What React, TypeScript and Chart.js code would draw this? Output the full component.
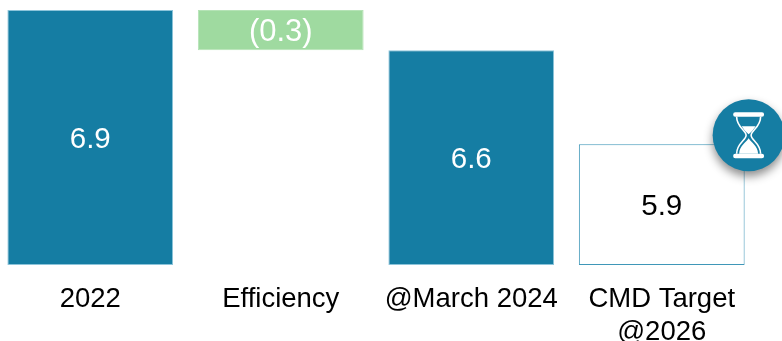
import React, { useEffect, useRef } from "react";
import { Chart, registerables, Plugin } from "chart.js";

Chart.register(...registerables);

const categories: (string | string[])[] = ["2022", "Efficiency", "@March 2024", ["CMD Target", "@2026"]];
const barRanges: [number, number][] = [[5, 6.9], [6.6, 6.9], [5, 6.6], [5, 5.9]];
const valueLabels = ["6.9", "(0.3)", "6.6", "5.9"];
const labelColors = ["#ffffff", "#ffffff", "#ffffff", "#000000"];
const labelSizes = [29.5, 31, 29.5, 29.5];
const fillColors = ["#157da3", "#9fdaa0", "#157da3", "#ffffff"];
const edgeColors = ["#8cc4da", "#b5e3b6", "#8cc4da", "#3f97b8"];

const AXIS_MIN = 5;
const AXIS_MAX = 6.9;
const FONT = "'Liberation Sans', Arial, sans-serif";

// Writes each bar's value in the middle of its bar.
const valueLabelPlugin: Plugin<"bar"> = {
  id: "valueLabels",
  afterDatasetsDraw(chart) {
    const { ctx } = chart;
    ctx.save();
    ctx.textAlign = "center";
    ctx.textBaseline = "middle";
    chart.getDatasetMeta(0).data.forEach((bar, i) => {
      const { x, y, base } = bar.getProps(["x", "y", "base"], true) as any;
      ctx.font = `${labelSizes[i]}px ${FONT}`;
      ctx.fillStyle = labelColors[i];
      ctx.fillText(valueLabels[i], x, (y + base) / 2 + 2);
    });
    ctx.restore();
  },
};

// Round hourglass badge pinned to the top-right corner of the target bar.
const badgePlugin: Plugin<"bar"> = {
  id: "hourglassBadge",
  afterDatasetsDraw(chart) {
    const { ctx } = chart;
    const target = chart.getDatasetMeta(0).data[3].getProps(["x", "y", "width"], true) as any;
    const cx = target.x + target.width / 2 + 4;
    const cy = target.y - 9;

    ctx.save();
    ctx.shadowColor = "rgba(0,0,0,0.45)";
    ctx.shadowBlur = 10;
    ctx.shadowOffsetY = 5;
    ctx.fillStyle = "#157da3";
    ctx.beginPath();
    ctx.arc(cx, cy, 36, 0, Math.PI * 2);
    ctx.fill();
    ctx.restore();

    ctx.save();
    ctx.translate(cx, cy);
    ctx.fillStyle = "#ffffff";
    ctx.strokeStyle = "#ffffff";
    ctx.lineWidth = 1.6;

    // Caps
    ctx.beginPath();
    ctx.roundRect(-15.5, -23, 31, 4.5, 2.2);
    ctx.roundRect(-15.5, 18.5, 31, 4.5, 2.2);
    ctx.fill();

    // Glass outline
    ctx.beginPath();
    ctx.moveTo(-12, -18.5);
    ctx.bezierCurveTo(-12, -8, -2.5, -5, -2.5, 0);
    ctx.bezierCurveTo(-2.5, 5, -12, 8, -12, 18.5);
    ctx.moveTo(12, -18.5);
    ctx.bezierCurveTo(12, -8, 2.5, -5, 2.5, 0);
    ctx.bezierCurveTo(2.5, 5, 12, 8, 12, 18.5);
    ctx.stroke();

    // Upper sand
    ctx.beginPath();
    ctx.moveTo(-7, -9);
    ctx.lineTo(7, -9);
    ctx.quadraticCurveTo(4, -4, 0, -1);
    ctx.quadraticCurveTo(-4, -4, -7, -9);
    ctx.fill();

    // Lower sand mound
    ctx.beginPath();
    ctx.moveTo(-9.5, 18.5);
    ctx.bezierCurveTo(-9, 10, -3, 8, 0, 3);
    ctx.bezierCurveTo(3, 8, 9, 10, 9.5, 18.5);
    ctx.closePath();
    ctx.fill();
    ctx.restore();
  },
};

export default function App() {
  const canvasRef = useRef<HTMLCanvasElement>(null);

  useEffect(() => {
    document.body.style.margin = "0";
    document.body.style.overflow = "hidden";
    const chart = new Chart(canvasRef.current!, {
      type: "bar",
      data: {
        labels: categories as any,
        datasets: [
          {
            data: barRanges as any,
            backgroundColor: fillColors,
            borderColor: edgeColors,
            borderWidth: 1,
            borderSkipped: false,
            barPercentage: 0.87,
            categoryPercentage: 1,
          },
        ],
      },
      options: {
        animation: false,
        responsive: false,
        layout: { padding: { top: 10, left: 0, right: 28, bottom: 0 } },
        plugins: { legend: { display: false }, tooltip: { enabled: false } },
        scales: {
          x: {
            grid: { display: false },
            border: { display: false },
            afterFit(scale: any) {
              scale.height = 76;
            },
            ticks: {
              color: "#000000",
              font: { family: FONT, size: 27.5, lineHeight: 1.2 },
              padding: 10,
              autoSkip: false,
              maxRotation: 0,
              minRotation: 0,
            },
          },
          y: { display: false, min: AXIS_MIN, max: AXIS_MAX },
        },
      },
      plugins: [valueLabelPlugin, badgePlugin],
    });
    return () => chart.destroy();
  }, []);

  return (
    <canvas
      ref={canvasRef}
      width={790}
      height={341}
      style={{ position: "absolute", left: -5, top: 0, width: 790, height: 341 }}
    />
  );
}
